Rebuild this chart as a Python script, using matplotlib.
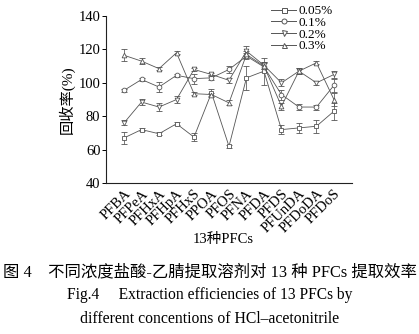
import matplotlib
matplotlib.use("Agg")
import matplotlib.pyplot as plt
from matplotlib.lines import Line2D

plt.rcParams['font.family'] = ['Liberation Serif', 'Noto Sans CJK SC']

compounds = ['PFBA', 'PFPeA', 'PFHxA', 'PFHpA', 'PFHxS', 'PPOA', 'PFOS',
             'PFNA', 'PFDA', 'PFDS', 'PFUnDA', 'PFDoDA', 'PFDoS']

labels = ['0.05%', '0.1%', '0.2%', '0.3%']

rec_005 = [67, 72, 69.5, 75.5, 67.5, 94, 62, 103, 107, 72, 73, 74, 83]
err_005 = [3.5, 1, 1, 0.8, 2.5, 2.5, 1, 7, 8, 2.5, 3, 4, 5]

rec_01 = [95.5, 102, 97.5, 104.5, 102.5, 103, 108, 116, 109.5, 93, 85.5, 85.5, 98.5]
err_01 = [1, 0.8, 3, 1, 3, 1.5, 2, 2, 3, 3, 2, 1.5, 4]

rec_02 = [76, 88.5, 85.5, 90, 108, 105, 101.5, 119, 110.5, 100, 107, 100, 105]
err_02 = [1.5, 2, 2.5, 2, 1, 1, 1.5, 3, 2, 2, 2, 1, 2]

rec_03 = [116.5, 113, 108.5, 118, 93.5, 93, 88, 117, 110, 86, 107, 112, 90]
err_03 = [3.5, 2, 1, 0.8, 1, 1, 1.5, 2, 2, 2, 2, 1, 4]

series = [rec_005, rec_01, rec_02, rec_03]
errors = [err_005, err_01, err_02, err_03]
markers = ['s', 'o', 'v', '^']

fig = plt.figure(figsize=(4.19, 3.34), dpi=100)
ax = fig.add_axes([0.253, 0.452, 0.587, 0.50])

x = list(range(len(compounds)))
c = '#555555'
handles = []
for vals, errs, m, lab in zip(series, errors, markers, labels):
    ax.errorbar(x, vals, yerr=errs, color=c, lw=0.6, marker=m, ms=3.4,
                mfc='white', mec=c, mew=0.6, ecolor=c, elinewidth=0.55,
                capsize=2, capthick=0.55)
    handles.append(Line2D([], [], color=c, lw=0.7, marker=m, ms=3.6,
                          mfc='white', mec=c, mew=0.7))

ax.set_xlim(-1.03, 13.03)
ax.set_ylim(40, 140)
ax.set_yticks([40, 60, 80, 100, 120, 140])
ax.set_xticks(x)
ax.set_xticklabels(compounds, rotation=45, ha='right', rotation_mode='anchor',
                   fontsize=10.5)
ax.tick_params(axis='y', labelsize=10.5, length=3, width=0.7, direction='out', pad=1)
ax.tick_params(axis='x', length=0, pad=3)
for s in ['top', 'right']:
    ax.spines[s].set_visible(False)
for s in ['left', 'bottom']:
    ax.spines[s].set_linewidth(0.8)
    ax.spines[s].set_color('#222222')

ax.set_ylabel('回收率(%)', fontsize=11, labelpad=3)

fig.legend(handles=handles, labels=labels, loc='upper left',
           bbox_to_anchor=(0.628, 1.008), frameon=False, fontsize=9.5,
           handlelength=1.9, handletextpad=0.15, labelspacing=-0.05,
           borderpad=0.1)

fig.text(0.532, 1 - 240 / 334, '13种PFCs', ha='center', va='center', fontsize=10.5)
fig.text(0.5, 1 - 272 / 334, '图 4　不同浓度盐酸-乙腈提取溶剂对 13 种 PFCs 提取效率',
         ha='center', va='center', fontsize=11.8)
fig.text(0.5, 1 - 295 / 334, 'Fig.4　 Extraction efficiencies of 13 PFCs by',
         ha='center', va='center', fontsize=11.2)
fig.text(0.5, 1 - 319 / 334, 'different concentions of HCl\u2013acetonitrile',
         ha='center', va='center', fontsize=11.3)

fig.savefig('out.png', dpi=100)
